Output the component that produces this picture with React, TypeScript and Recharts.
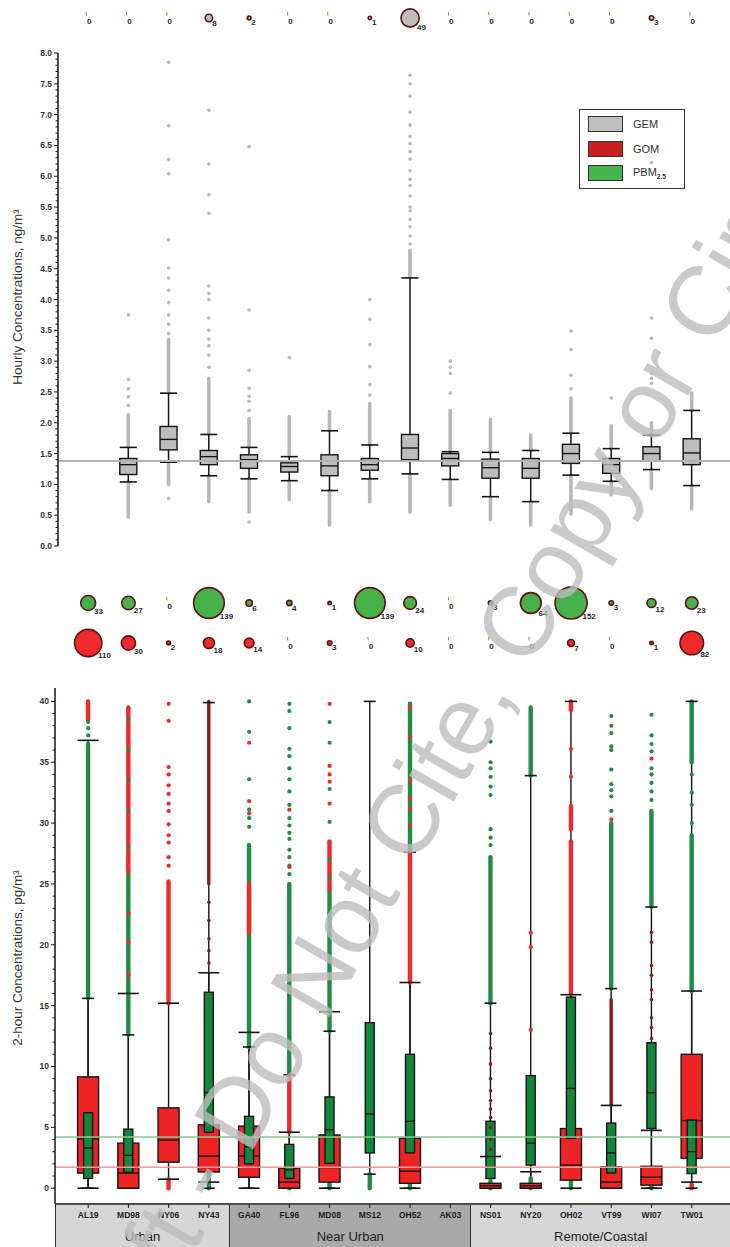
import React from "react";
import { Bar, ComposedChart, ReferenceLine, Scatter, ScatterChart, XAxis, YAxis } from "recharts";

const sites = ["AL19", "MD98", "NY06", "NY43", "GA40", "FL96", "MD08", "MS12", "OH52", "AK03", "NS01", "NY20", "OH02", "VT99", "WI07", "TW01"];
const groupNames = ["Urban", "Near Urban", "Remote/Coastal"];
const groupOfSite = [0, 0, 0, 0, 1, 1, 1, 1, 1, 1, 2, 2, 2, 2, 2, 2];

// counts above the axis maximum (bubbles)
const gemOver = [0, 0, 0, 8, 2, 0, 0, 1, 49, 0, 0, 0, 0, 0, 3, 0];
const pbmOver = [33, 27, 0, 139, 6, 4, 1, 139, 24, 0, 3, 64, 152, 3, 12, 23];
const gomOver = [110, 30, 2, 18, 14, 0, 3, 0, 10, 0, 0, 0, 7, 0, 1, 82];

const gemRef = 1.38;
const pbmRef = 4.2;
const gomRef = 1.72;

type Stat = [number, number, number, number, number] | null;

// [whisker low, q1, median, q3, whisker high]
const gemBox: Stat[] = [
  null,
  [1.04, 1.16, 1.32, 1.42, 1.6],
  [1.36, 1.56, 1.73, 1.94, 2.48],
  [1.14, 1.32, 1.45, 1.55, 1.81],
  [1.09, 1.26, 1.4, 1.48, 1.6],
  [1.06, 1.2, 1.29, 1.35, 1.45],
  [0.9, 1.14, 1.3, 1.48, 1.87],
  [1.09, 1.23, 1.32, 1.42, 1.64],
  [1.17, 1.4, 1.59, 1.81, 4.35],
  [1.08, 1.3, 1.42, 1.5, 1.53],
  [0.8, 1.1, 1.27, 1.41, 1.52],
  [0.72, 1.1, 1.26, 1.42, 1.55],
  [1.15, 1.34, 1.5, 1.65, 1.83],
  [1.05, 1.18, 1.32, 1.42, 1.58],
  [1.24, 1.38, 1.5, 1.61, 1.8],
  [0.98, 1.32, 1.51, 1.74, 2.2],
];

const gomBox: Stat[] = [
  [0, 1.24, 4.04, 9.15, 36.8],
  [0, 0, 1.25, 3.7, 16.0],
  [0.74, 2.14, 3.96, 6.6, 15.2],
  [0.5, 1.33, 2.64, 5.2, 17.7],
  [0, 0.9, 2.64, 5.1, 12.8],
  [0, 0, 0.5, 1.65, 4.6],
  [0, 0.5, 1.7, 4.37, 14.5],
  null,
  [0, 0.4, 1.4, 4.1, 16.9],
  null,
  [0, 0, 0.2, 0.4, 2.6],
  [0, 0, 0.2, 0.4, 1.35],
  [0, 0.66, 1.9, 4.9, 15.9],
  [0, 0, 0.5, 1.75, 6.8],
  [0, 0.25, 0.9, 1.8, 4.75],
  [0.5, 2.45, 5.55, 11.0, 16.2],
];

const pbmBox: Stat[] = [
  [0, 0.8, 3.3, 6.2, 15.6],
  [0, 1.3, 2.7, 4.85, 12.6],
  null,
  [0, 4.6, 7.85, 16.1, 39.9],
  [0, 2.0, 3.4, 5.9, 11.6],
  [0, 0.8, 1.5, 3.6, 9.3],
  [0, 2.05, 4.8, 7.5, 12.9],
  [1.15, 2.9, 6.1, 13.6, 40],
  [0, 2.9, 5.5, 11.0, 27.6],
  null,
  [0, 0.8, 2.6, 5.5, 15.2],
  [0, 1.9, 3.7, 9.25, 33.9],
  [1.2, 4.1, 8.2, 15.7, 40],
  [0, 1.25, 2.9, 5.35, 16.4],
  [0, 4.9, 7.85, 11.95, 23.1],
  [0, 1.2, 3.0, 5.6, 40],
];

// dense runs of outliers, [from, to]
const gemStrips: number[][][] = [
  [],
  [[0.47, 1.04], [1.6, 2.13]],
  [[1.0, 1.36], [2.48, 3.35]],
  [[0.72, 1.14], [1.81, 2.72]],
  [[0.55, 1.09], [1.6, 2.07]],
  [[0.75, 1.06], [1.45, 2.1]],
  [[0.34, 0.9], [1.87, 2.18]],
  [[0.72, 1.09], [1.64, 2.31]],
  [[0.55, 1.17], [4.35, 4.8]],
  [[0.66, 1.08], [1.53, 2.2]],
  [[0.43, 0.8], [1.52, 2.05]],
  [[0.34, 0.72], [1.55, 1.8]],
  [[0.52, 1.15], [1.83, 2.4]],
  [[0.83, 1.05], [1.58, 1.95]],
  [[0.93, 1.24], [1.8, 2.0]],
  [[0.6, 0.98], [2.2, 2.48]],
];

const pbmStrips: number[][][] = [
  [[15.6, 36.5]],
  [[12.6, 26]],
  [],
  [[0, 1.2]],
  [[11.6, 28.2]],
  [[9.3, 25], [0, 0.5]],
  [[12.9, 24.5], [0, 0.6]],
  [[0, 1.15]],
  [[27.6, 39.8], [0, 0.6]],
  [],
  [[15.2, 27.2], [0, 0.6]],
  [[33.9, 39.5], [0, 0.8]],
  [[0, 1.2]],
  [[16.4, 30]],
  [[23.1, 31], [0, 1.2]],
  [[16.2, 29], [35, 40]],
];

const gomStrips: number[][][] = [
  [[38.5, 40]],
  [[26, 39.5]],
  [[15.2, 25.2], [0, 0.74]],
  [],
  [[21, 25]],
  [[4.6, 9.3]],
  [[24.5, 28.5]],
  [],
  [[16.9, 27.6]],
  [],
  [],
  [],
  [[16, 28.5], [29.5, 31.4], [39.3, 40]],
  [],
  [],
  [[0, 0.3]],
];

const gomDarkStrips: number[][][] = [
  [], [], [], [[25, 40]], [], [], [], [], [], [], [], [], [], [[6.8, 15.5]], [], [],
];

// single outliers
const gemDots: number[][] = [
  [],
  [2.28, 2.42, 2.55, 2.7, 3.75],
  [0.77, 3.45, 3.6, 3.75, 3.95, 4.15, 4.35, 4.51, 4.97, 6.04, 6.27, 6.82, 7.85],
  [2.9, 3.1, 3.25, 3.36, 3.5, 3.7, 4.0, 4.1, 4.22, 5.4, 5.7, 6.2, 7.07],
  [0.39, 2.2, 2.35, 2.43, 2.56, 2.85, 3.83, 6.48],
  [3.06],
  [],
  [2.45, 2.62, 2.91, 3.27, 3.68, 4.0],
  [4.9, 5.03, 5.18, 5.3, 5.44, 5.5, 5.68, 5.85, 5.95, 6.09, 6.28, 6.4, 6.53, 6.65, 6.83, 7.04, 7.3, 7.5, 7.64],
  [2.48, 2.8, 2.9, 3.0],
  [],
  [],
  [2.55, 2.77, 3.19, 3.49],
  [2.4],
  [2.64, 2.72, 2.8, 3.37, 3.7, 6.22],
  [],
];

const pbmDots: number[][] = [
  [37.2, 37.8, 38.3],
  [28.0, 31.0, 33.5, 36.0, 38.5],
  [],
  [],
  [29.7, 30.4, 31.1, 33.6, 37.5, 40.0],
  [25.8, 26.5, 27.2, 27.8, 28.7, 29.2, 29.8, 30.4, 31.5, 32.6, 33.6, 34.5, 35.5, 36.1, 37.8, 39.2, 39.8],
  [25.5, 27.0, 30.1, 32.8, 36.6, 38.3],
  [],
  [],
  [],
  [28.2, 28.8, 29.5, 32.3, 33.0, 33.8, 34.5, 35.0, 36.7],
  [],
  [],
  [31.0, 32.2, 32.7, 33.2, 34.4, 36.0, 36.3, 37.4, 38.0, 38.8],
  [31.9, 32.6, 33.3, 34.0, 34.5, 35.9, 36.5, 37.2, 38.9],
  [30.0, 31.5, 32.5, 34.0],
];

const gomDots: number[][] = [
  [],
  [17.5, 20.2, 22.6],
  [26.5, 27.2, 28.4, 29.0, 29.9, 31.0, 31.6, 32.4, 33.1, 34.0, 34.6, 38.4, 39.8],
  [],
  [30.8, 31.8, 36.6],
  [26.4, 31.1],
  [31.6, 33.4, 34.0, 34.7, 39.8],
  [],
  [29.8, 31.2, 32.0, 33.5, 37.1, 39.5],
  [],
  [],
  [13.0, 19.8, 21.0],
  [33.8, 36.1],
  [30.3],
  [35.3],
  [],
];

const gomDarkDots: number[][] = [
  [], [], [], [18.5, 19.5, 20.5, 22.0, 23.5], [], [], [], [], [], [],
  [3.2, 4.0, 5.0, 5.8, 6.5, 7.2, 8.0, 9.0, 10.2, 11.5, 12.7],
  [], [], [],
  [12.3, 13.2, 14.0, 15.5, 16.3, 17.5, 18.3, 20.2, 21.0],
  [],
];

const FONT = '"Liberation Sans", Arial, sans-serif';
const INK = "#151515";
const GEM_FILL = "#bdbdbd";
const GEM_DOT = "#b8b8b8";
const RED_BOX = "#ee2424";
const RED_DOT = "#f02a2a";
const DARK_RED = "#8c1a1a";
const GREEN_BOX = "#12873c";
const GREEN_DOT = "#1f8d46";

const TOP_X: [number, number] = [-0.75, 15.95];
const BOT_X: [number, number] = [-0.825, 15.95];
const siteTicks = sites.map((_, i) => i);
const gemTicks = Array.from({ length: 81 }, (_, k) => k / 10);
const pgTicks = Array.from({ length: 41 }, (_, k) => k);

const extentOf = (vals: number[]): [number, number] | null =>
  vals.length ? [Math.min(...vals), Math.max(...vals)] : null;

const topRows = sites.map((site, i) => ({
  i,
  site,
  ext: extentOf([...(gemBox[i] ?? []), ...gemStrips[i].flat()]),
}));

const bottomRows = sites.map((site, i) => ({
  i,
  site,
  ext: extentOf([
    ...(gomBox[i] ?? []),
    ...(pbmBox[i] ?? []),
    ...gomStrips[i].flat(),
    ...pbmStrips[i].flat(),
    ...gomDarkStrips[i].flat(),
  ]),
}));

const flatDots = (lists: number[][]) => lists.flatMap((vs, i) => vs.map((v) => ({ i, v })));
const gemDotData = flatDots(gemDots);
const pbmDotData = flatDots(pbmDots);
const gomDotData = flatDots(gomDots);
const gomDarkDotData = flatDots(gomDarkDots);

const gemBubbles = gemOver.map((n, i) => ({ i, row: 0.5, n }));
const pbmBubbles = pbmOver.map((n, i) => ({ i, row: 1.5, n }));
const gomBubbles = gomOver.map((n, i) => ({ i, row: 0.5, n }));

const xBot = (v: number) => 55 + ((v - BOT_X[0]) / (BOT_X[1] - BOT_X[0])) * 675;

const AxisTick = ({ x, y, payload, step, decimals }: any) => {
  const v = payload.value;
  const major = Math.abs(v / step - Math.round(v / step)) < 1e-6;
  return (
    <g>
      <line x1={x - (major ? 4 : 2.5)} x2={x} y1={y} y2={y} stroke={INK} strokeWidth={1} />
      {major && (
        <text x={x - 6} y={y} dy={3} textAnchor="end" fontSize={8.5} fontWeight="bold" fill="#333" fontFamily={FONT}>
          {v.toFixed(decimals)}
        </text>
      )}
    </g>
  );
};

const vLine = (key: string, cx: number, y1: number, y2: number, color: string, w: number, round = false) => (
  <line key={key} x1={cx} x2={cx} y1={y1} y2={y2} stroke={color} strokeWidth={w} strokeLinecap={round ? "round" : "butt"} />
);

const capPair = (key: string, cx: number, s: number[], px: (v: number) => number, w: number) => (
  <g key={key}>
    {[s[0], s[4]].map((v, k) => (
      <line key={k} x1={cx - w / 2} x2={cx + w / 2} y1={px(v)} y2={px(v)} stroke={INK} strokeWidth={1.6} />
    ))}
  </g>
);

const boxRect = (key: string, cx: number, s: number[], px: (v: number) => number, w: number, fill: string) => (
  <g key={key}>
    <rect x={cx - w / 2} y={px(s[3])} width={w} height={Math.max(px(s[1]) - px(s[3]), 1)} fill={fill} stroke={INK} strokeWidth={1.4} />
    <line x1={cx - w / 2} x2={cx + w / 2} y1={px(s[2])} y2={px(s[2])} stroke={INK} strokeWidth={1.4} />
  </g>
);

const GemShape = (props: any) => {
  const { x, y, width, height, payload } = props;
  if (!payload || !payload.ext) return null;
  const [lo, hi] = payload.ext;
  const s = gemBox[payload.i];
  if (!s || !(hi > lo)) return null;
  const cx = x + width / 2;
  const px = (v: number) => y + ((hi - v) / (hi - lo)) * height;
  return (
    <g>
      {gemStrips[payload.i].map(([a, b], k) => vLine("s" + k, cx, px(a), px(b), GEM_DOT, 3.6, true))}
      {vLine("w", cx, px(s[4]), px(s[0]), INK, 1.5)}
      {capPair("c", cx, s, px, 17)}
      {boxRect("b", cx, s, px, 17, GEM_FILL)}
    </g>
  );
};

const SiteShape = (props: any) => {
  const { x, y, width, height, payload } = props;
  if (!payload || !payload.ext) return null;
  const [lo, hi] = payload.ext;
  if (!(hi > lo)) return null;
  const i = payload.i;
  const cx = x + width / 2;
  const px = (v: number) => y + ((hi - v) / (hi - lo)) * height;
  const gom = gomBox[i];
  const pbm = pbmBox[i];
  return (
    <g>
      {gom && vLine("wr", cx, px(gom[4]), px(gom[0]), INK, 1.4)}
      {pbm && vLine("wg", cx, px(pbm[4]), px(pbm[0]), INK, 1.4)}
      {pbmStrips[i].map(([a, b], k) => vLine("g" + k, cx, px(a), px(b), GREEN_DOT, 4.4, true))}
      {gomStrips[i].map(([a, b], k) => vLine("r" + k, cx, px(a), px(b), RED_DOT, 4.4, true))}
      {gomDarkStrips[i].map(([a, b], k) => vLine("d" + k, cx, px(a), px(b), DARK_RED, 3.4, true))}
      {gom && capPair("cr", cx, gom, px, 21)}
      {pbm && capPair("cg", cx, pbm, px, 12)}
      {gom && boxRect("br", cx, gom, px, 21, RED_BOX)}
      {pbm && boxRect("bg", cx, pbm, px, 9, GREEN_BOX)}
    </g>
  );
};

const dot = (fill: string, r: number) => (p: any) => <circle cx={p.cx} cy={p.cy} r={r} fill={fill} />;

const bubble = (fill: string) => (p: any) => {
  const { cx, cy, payload } = p;
  const n = payload.n;
  if (n === 0) {
    return (
      <g>
        <line x1={cx - 2} x2={cx - 1.6} y1={cy - 6} y2={cy - 2.5} stroke="#b07a3a" strokeWidth={1} />
        <text x={cx + 1} y={cy + 6} textAnchor="middle" fontSize={8} fontWeight="bold" fill="#1f1f3a" fontFamily={FONT}>
          0
        </text>
      </g>
    );
  }
  const r = Math.max(1.7, 1.3 * Math.sqrt(n));
  return (
    <g>
      <circle cx={cx} cy={cy} r={r} fill={fill} stroke="#5e1212" strokeWidth={1.6} />
      <text x={cx + r * 0.65 + 1} y={cy + r * 0.65 + 6} fontSize={8} fontWeight="bold" fill="#1f1f3a" fontFamily={FONT}>
        {n}
      </text>
    </g>
  );
};

const legendItems = [
  { label: "GEM", sub: "", fill: "#bfbfbf" },
  { label: "GOM", sub: "", fill: "#c9201f" },
  { label: "PBM", sub: "2.5", fill: "#45b64b" },
];

const groupSpans = groupNames.map((name, g) => {
  const idx = groupOfSite.map((v, i) => (v === g ? i : -1)).filter((i) => i >= 0);
  const left = g === 0 ? 55 : xBot(idx[0] - 0.5);
  const right = g === groupNames.length - 1 ? 730 : xBot(idx[idx.length - 1] + 0.5);
  return { name, left, right, dark: g === 1 };
});

export default function App() {
  return (
    <div style={{ position: "absolute", left: 0, top: 0, width: 730, height: 1247, background: "#fff", overflow: "hidden", fontFamily: FONT }}>
      {groupSpans.map((g) => (
        <div
          key={g.name}
          style={{
            position: "absolute",
            left: g.left,
            top: 1205,
            width: g.right - g.left,
            height: 42,
            background: g.dark ? "#a9a9a9" : "#d6d6d6",
            borderLeft: "1.5px solid #333",
            boxSizing: "border-box",
          }}
        >
          <div style={{ position: "absolute", left: 0, right: 0, top: 24, textAlign: "center", fontSize: 13, lineHeight: "16px", color: "#222" }}>
            {g.name}
          </div>
        </div>
      ))}

      {/* top bubbles */}
      <div style={{ position: "absolute", left: 0, top: 0 }}>
        <ScatterChart width={730} height={36} margin={{ top: 0, right: 0, bottom: 0, left: 58 }}>
          <XAxis type="number" dataKey="i" domain={TOP_X} allowDataOverflow hide />
          <YAxis type="number" dataKey="row" domain={[0, 1]} allowDataOverflow hide />
          <Scatter data={gemBubbles} shape={bubble(GEM_FILL)} isAnimationActive={false} />
        </ScatterChart>
      </div>

      {/* hourly GEM */}
      <div style={{ position: "absolute", left: 0, top: 0 }}>
        <ComposedChart width={730} height={560} data={topRows} margin={{ top: 53, right: 0, bottom: 14, left: 0 }}>
          <XAxis type="number" dataKey="i" domain={TOP_X} ticks={siteTicks} allowDataOverflow hide />
          <YAxis
            type="number"
            domain={[0, 8]}
            ticks={gemTicks}
            interval={0}
            allowDataOverflow
            width={58}
            tickSize={0}
            tickMargin={0}
            tickLine={false}
            axisLine={{ stroke: INK, strokeWidth: 1.5 }}
            tick={(p: any) => <AxisTick {...p} step={0.5} decimals={1} />}
          />
          <ReferenceLine y={gemRef} stroke="#b3b3b3" strokeWidth={2} />
          <Bar dataKey="ext" barSize={20} shape={GemShape} isAnimationActive={false} />
          <Scatter data={gemDotData} dataKey="v" shape={dot(GEM_DOT, 1.8)} isAnimationActive={false} />
        </ComposedChart>
      </div>

      {/* 2-hour bubbles */}
      <div style={{ position: "absolute", left: 0, top: 583 }}>
        <ScatterChart width={730} height={80} margin={{ top: 0, right: 0, bottom: 0, left: 55 }}>
          <XAxis type="number" dataKey="i" domain={BOT_X} allowDataOverflow hide />
          <YAxis type="number" dataKey="row" domain={[0, 2]} allowDataOverflow hide />
          <Scatter data={pbmBubbles} shape={bubble("#46b04a")} isAnimationActive={false} />
          <Scatter data={gomBubbles} shape={bubble("#ee2a2a")} isAnimationActive={false} />
        </ScatterChart>
      </div>

      {/* 2-hour GOM / PBM */}
      <div style={{ position: "absolute", left: 0, top: 660 }}>
        <ComposedChart width={730} height={574} data={bottomRows} margin={{ top: 28, right: 0, bottom: 0, left: 0 }}>
          <XAxis
            type="number"
            dataKey="i"
            domain={BOT_X}
            ticks={siteTicks}
            interval={0}
            allowDataOverflow
            height={30}
            tickFormatter={(v: number) => sites[v] ?? ""}
            axisLine={{ stroke: INK, strokeWidth: 1.5 }}
            tickLine={{ stroke: INK }}
            tickSize={4}
            tickMargin={4}
            tick={{ fontSize: 8.5, fontWeight: "bold", fill: "#222", fontFamily: FONT }}
          />
          <YAxis
            type="number"
            domain={[-1.3, 41.1]}
            ticks={pgTicks}
            interval={0}
            allowDataOverflow
            width={55}
            tickSize={0}
            tickMargin={0}
            tickLine={false}
            axisLine={{ stroke: INK, strokeWidth: 1.5 }}
            tick={(p: any) => <AxisTick {...p} step={5} decimals={0} />}
          />
          <ReferenceLine y={pbmRef} stroke="#86c98f" strokeWidth={1.5} />
          <ReferenceLine y={gomRef} stroke="#f39a9a" strokeWidth={1.5} />
          <Bar dataKey="ext" barSize={20} shape={SiteShape} isAnimationActive={false} />
          <Scatter data={pbmDotData} dataKey="v" shape={dot(GREEN_DOT, 2.1)} isAnimationActive={false} />
          <Scatter data={gomDotData} dataKey="v" shape={dot(RED_DOT, 2.1)} isAnimationActive={false} />
          <Scatter data={gomDarkDotData} dataKey="v" shape={dot(DARK_RED, 1.8)} isAnimationActive={false} />
        </ComposedChart>
      </div>

      {/* legend */}
      <div style={{ position: "absolute", left: 579, top: 109, width: 106, height: 80, border: "1.5px solid #333", boxSizing: "border-box" }}>
        {legendItems.map((it, k) => (
          <div key={it.label} style={{ position: "absolute", left: 8, top: 6 + k * 24.5, display: "flex", alignItems: "center" }}>
            <div style={{ width: 35, height: 16, background: it.fill, border: "1px solid #333", boxSizing: "border-box" }} />
            <div style={{ marginLeft: 10, fontSize: 11, color: "#333" }}>
              {it.label}
              {it.sub && <sub style={{ fontSize: 6.5, fontWeight: "bold" }}>{it.sub}</sub>}
            </div>
          </div>
        ))}
      </div>

      <svg width={730} height={1247} style={{ position: "absolute", left: 0, top: 0, pointerEvents: "none" }}>
        <text transform="translate(22,297) rotate(-90)" textAnchor="middle" fontSize={13.5} fill="#333" fontFamily={FONT}>
          Hourly Concentrations, ng/m³
        </text>
        <text transform="translate(22,958) rotate(-90)" textAnchor="middle" fontSize={13.5} fill="#333" fontFamily={FONT}>
          2-hour Concentrations, pg/m³
        </text>
        <text transform="translate(99.2,1415.6) rotate(-60)" fontSize={98} fill="#bdbdbd" fillOpacity={0.8} fontFamily={FONT}>
          Draft - Do Not Cite, Copy or Circulate
        </text>
      </svg>
    </div>
  );
}
